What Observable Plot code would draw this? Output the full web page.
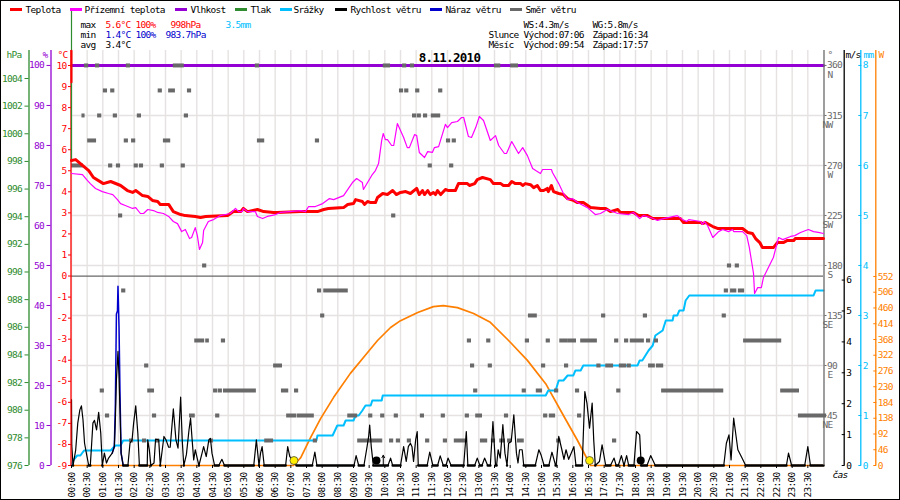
<!DOCTYPE html>
<html>
<head>
<meta charset="utf-8">
<script src="https://cdn.jsdelivr.net/npm/d3@7"></script>
<script src="https://cdn.jsdelivr.net/npm/@observablehq/plot@0.6"></script>
<style>
html,body{margin:0;padding:0;background:#fff}
svg{display:block;outline:1px solid #000;outline-offset:-1px;overflow:visible}
</style>
</head>
<body>
<div id="chart"></div>
<script>
// --- data: [minutes since midnight, value]
const temperature = [[0,5.49],[8,5.53],[33,5.01],[42,4.68],[61,4.39],[75,4.49],[94,4.30],[107,4.06],[117,3.97],[123,4.06],[136,3.82],[146,3.78],[155,3.59],[165,3.54],[170,3.40],[186,3.40],[195,3.06],[209,2.92],[218,2.87],[237,2.83],[247,2.78],[257,2.83],[299,2.87],[310,3.06],[324,3.06],[329,3.21],[337,3.06],[356,3.16],[368,3.06],[387,3.02],[394,3.02],[439,3.06],[471,3.06],[483,3.16],[492,3.21],[521,3.25],[529,3.40],[540,3.44],[544,3.63],[557,3.54],[561,3.40],[567,3.54],[573,3.49],[582,3.49],[586,3.73],[596,3.92],[605,3.87],[615,4.06],[622,3.87],[630,3.97],[640,4.01],[649,3.92],[661,4.16],[666,3.87],[672,4.06],[676,3.87],[682,4.06],[687,3.87],[693,3.97],[697,3.87],[701,4.06],[707,3.87],[716,4.11],[722,4.06],[735,4.06],[741,4.39],[758,4.39],[762,4.30],[772,4.39],[777,4.58],[787,4.68],[802,4.58],[808,4.39],[822,4.39],[827,4.30],[837,4.30],[843,4.49],[850,4.39],[860,4.39],[864,4.30],[869,4.39],[879,4.34],[885,4.20],[892,4.30],[898,4.06],[904,4.06],[911,4.16],[913,4.01],[919,4.30],[923,4.01],[933,3.92],[942,3.87],[950,3.68],[961,3.59],[969,3.49],[980,3.49],[994,3.25],[1013,3.21],[1023,3.21],[1032,3.06],[1046,3.16],[1051,3.02],[1076,3.02],[1086,2.87],[1103,2.87],[1113,2.73],[1166,2.73],[1172,2.54],[1205,2.54],[1208,2.49],[1214,2.54],[1228,2.35],[1237,2.26],[1285,2.26],[1295,2.07],[1304,2.02],[1310,1.78],[1318,1.59],[1323,1.35],[1344,1.35],[1352,1.59],[1363,1.59],[1371,1.69],[1383,1.69],[1386,1.78],[1440,1.78]];
const temperatureStart = [[0,10.7],[0,9.2]];
const apparent = [[0,4.87],[21,4.82],[29,4.58],[36,4.39],[46,4.16],[59,4.01],[71,3.92],[79,3.87],[88,3.63],[94,3.44],[103,3.35],[117,3.21],[123,3.25],[132,2.97],[138,2.97],[146,3.16],[157,3.11],[165,3.02],[176,2.97],[186,2.83],[195,2.59],[203,2.49],[211,2.11],[218,2.21],[226,1.78],[230,1.83],[237,2.30],[241,1.92],[245,1.26],[251,1.59],[253,2.16],[262,2.59],[272,2.68],[285,2.87],[304,2.97],[314,3.21],[320,3.06],[327,3.06],[329,3.21],[337,3.06],[352,3.06],[356,2.83],[366,2.73],[375,2.83],[391,2.92],[400,3.02],[439,3.11],[448,3.06],[454,3.30],[467,3.30],[481,3.44],[494,3.68],[502,3.63],[521,3.82],[538,4.44],[546,4.63],[557,4.44],[559,4.11],[576,4.82],[582,5.01],[588,5.34],[594,6.44],[597,6.77],[601,6.48],[605,6.48],[613,6.20],[617,6.20],[624,7.24],[636,6.58],[643,6.10],[647,6.10],[657,6.72],[661,6.67],[666,5.87],[676,5.63],[682,5.91],[691,5.87],[695,6.10],[703,6.15],[716,7.20],[720,7.05],[728,7.29],[739,7.34],[747,7.53],[751,7.53],[760,6.63],[766,6.58],[774,7.05],[781,7.58],[789,7.39],[802,6.44],[812,6.67],[818,6.20],[829,5.82],[833,5.82],[843,6.39],[856,5.82],[864,6.10],[873,5.72],[883,5.11],[889,5.01],[898,4.87],[902,5.06],[919,5.06],[921,4.92],[933,4.39],[942,3.92],[950,3.63],[959,3.68],[969,3.49],[988,3.25],[1003,2.92],[1013,2.97],[1026,3.16],[1046,2.97],[1067,2.92],[1076,3.02],[1088,2.73],[1095,2.87],[1109,2.78],[1122,2.64],[1134,2.73],[1160,2.87],[1170,2.68],[1178,2.59],[1182,2.68],[1205,2.59],[1208,2.45],[1212,2.59],[1218,2.40],[1228,1.83],[1239,2.11],[1247,2.21],[1258,2.11],[1266,2.21],[1268,2.11],[1285,2.11],[1293,1.92],[1298,1.35],[1306,0.12],[1308,-0.83],[1314,-0.55],[1321,-0.55],[1325,-0.07],[1344,0.88],[1354,1.83],[1362,1.73],[1377,1.88],[1385,1.92],[1396,2.07],[1411,2.21],[1421,2.11],[1430,2.07],[1440,2.02]];
const humidity = [[0,100],[1440,100]];
const pressure = [[0,1008.9],[0,998]];
const windSpeed = [[0,2.13],[0.5,0.65],[3,0],[8,0.5],[12,1.37],[16,1.8],[19,1.93],[22,1.48],[25,0.72],[29,0.35],[33,0],[36,0],[41,1.37],[44,1.46],[48,1.15],[52,1.72],[56,1.05],[59,0],[63,0.4],[67,0.08],[71,0.24],[78,0.4],[82,0.61],[84,1.48],[86,2.77],[89,3.69],[91,2.88],[93,1.69],[95,0.4],[99,0],[108,0],[112,0.72],[116,0.83],[119,1.37],[123,1.93],[127,1.05],[130,0],[145,0],[146,0.83],[149,0.51],[152,0],[158,0.08],[161,0.85],[167,0.83],[170,0],[177,0.94],[181,0.83],[186,0.59],[189,0.59],[195,1.83],[200,0.83],[204,0.56],[209,2.21],[212,0.83],[215,0],[220,0.35],[225,1.15],[228,1.53],[231,0.83],[234,0.18],[237,0.51],[240,0.29],[244,0],[250,0.4],[253,0.61],[258,0.29],[263,0.83],[266,0.88],[269,0.4],[274,0],[282,0],[288,0.2],[293,0],[349,0],[354,0.83],[359,0],[362,0.4],[365,0.61],[369,0],[410,0],[414,0.61],[418,0.29],[426,0.08],[431,0],[461,0],[466,0.43],[470,0],[541,0],[545,0.32],[550,0],[560,0],[566,0.61],[569,0.94],[571,1.31],[574,0.61],[578,0],[606,0],[611,0.24],[615,0],[630,0],[636,0.61],[641,0.13],[645,0.61],[649,0.72],[652,0.61],[655,0.13],[659,0.83],[662,1.1],[664,0],[681,0],[686,0.43],[692,0],[701,0],[706,0.31],[712,0],[717,0],[721,0.24],[727,0],[751,0],[756,1.1],[759,0],[772,0],[777,0.24],[782,0],[786,0],[791,0.24],[797,0],[802,0],[807,1.42],[812,0],[814,0],[817,0.51],[821,0.24],[826,1.32],[830,0.4],[834,0],[837,0.72],[842,0.78],[847,1.64],[852,0.4],[855,0.08],[858,0.51],[863,0.51],[866,0],[888,0],[895,0.51],[899,0.35],[905,0],[914,0],[920,0.43],[927,0],[928,0],[933,0.94],[939,0.51],[943,0.2],[947,0.51],[952,0.2],[962,0.61],[966,0],[978,0],[983,2.39],[987,2.02],[992,1.21],[997,2.02],[1000,0.83],[1003,0],[1011,0.13],[1016,0.67],[1023,0],[1032,0],[1039,0.24],[1043,0],[1047,0],[1053,0.32],[1058,0],[1063,0.32],[1067,0],[1077,0],[1082,1.1],[1088,0.99],[1091,0],[1102,0],[1109,0.32],[1118,0],[1249,0],[1254,0.72],[1259,0.99],[1263,0.18],[1268,1.53],[1271,1.15],[1276,0.51],[1284,0.24],[1291,0],[1369,0],[1373,0.4],[1379,0],[1404,0],[1410,0.61],[1415,0],[1440,0]];
const windGust = [[78,0.4],[82,0.61],[84,2.0],[86,4.9],[88,5.0],[89,5.8],[91,4.5],[93,2.2],[95,0.4],[99,0]];
const rain = [[0,0],[3,0.1],[11,0.2],[17,0.2],[24,0.3],[75,0.3],[84,0.4],[94,0.4],[99,0.5],[469,0.5],[471,0.6],[500,0.6],[509,0.8],[521,0.8],[525,0.9],[540,0.9],[544,1.0],[550,1.0],[557,1.1],[563,1.2],[573,1.2],[576,1.3],[594,1.3],[596,1.4],[908,1.4],[913,1.5],[927,1.5],[933,1.7],[942,1.7],[950,1.8],[961,1.8],[965,1.9],[975,1.9],[980,2.0],[1084,2.0],[1088,2.1],[1093,2.1],[1099,2.2],[1105,2.3],[1113,2.4],[1118,2.6],[1132,2.7],[1138,2.9],[1151,2.9],[1153,3.0],[1160,3.0],[1164,3.1],[1172,3.1],[1176,3.3],[1183,3.4],[1421,3.4],[1425,3.5],[1440,3.5]];
const solar = [[0,0],[425,0],[439,23],[458,82],[477,137],[502,199],[534,269],[567,330],[586,365],[611,403],[630,423],[663,447],[693,464],[712,467],[739,461],[770,444],[802,418],[837,365],[873,307],[908,239],[942,146],[969,73],[994,0],[1440,0]];
// wind direction: degrees -> [from minute, to minute]
const direction360 = [[25,33],[46,54],[105,113],[195,216],[352,360],[597,611],[634,642],[649,657],[810,822],[841,856]];
const direction337 = [[61,69],[75,83],[166,174],[186,199],[222,230],[628,636],[638,646],[659,667],[703,711]];
const direction315 = [[20,26],[50,58],[80,88],[126,134],[216,224],[653,661],[662,670],[674,682],[689,707]];
const direction292 = [[31,48],[101,109],[115,123],[176,190],[356,370],[467,475],[718,726],[729,737]];
const direction270 = [[0,23],[71,79],[86,94],[120,128],[130,138],[170,178],[210,218],[683,691],[724,732]];
const direction225 = [[90,98],[613,621]];
const direction180 = [[251,259],[1256,1264],[1271,1279]];
const direction157 = [[96,104],[471,479],[483,530],[1250,1258],[1262,1274],[1277,1289]];
const direction135 = [[477,485],[875,892],[1015,1023],[1095,1103],[1246,1254]];
const direction112 = [[236,255],[257,264],[287,295],[758,766],[795,803],[869,877],[909,917],[935,950],[950,967],[975,1007],[1040,1048],[1059,1067],[1070,1097],[1101,1109],[1116,1124],[1287,1360]];
const direction90 = [[140,148],[387,404],[764,772],[798,806],[900,908],[944,952],[1006,1014],[1023,1038],[1049,1063],[1064,1072],[1105,1118],[1120,1134]];
const direction67 = [[55,63],[146,159],[272,280],[281,289],[291,354],[402,416],[427,435],[770,778],[863,871],[890,902],[925,933],[965,973],[1044,1052],[1130,1249],[1358,1394]];
const direction45 = [[65,73],[155,163],[226,237],[276,284],[412,431],[432,465],[529,548],[569,577],[592,600],[618,626],[668,676],[708,716],[754,762],[774,787],[829,837],[904,912],[915,927],[969,977],[1392,1446]];
const direction22 = [[111,119],[136,144],[161,169],[264,272],[370,387],[463,471],[548,596],[609,617],[622,630],[643,651],[678,686],[712,720],[733,755],[783,797],[804,812],[820,831],[835,843],[854,867],[929,937],[1036,1044]];
const directionRows = [[360,direction360],[337.5,direction337],[315,direction315],[292.5,direction292],[270,direction270],[225,direction225],[180,direction180],[157.5,direction157],[135,direction135],[112.5,direction112],[90,direction90],[67.5,direction67],[45,direction45],[22.5,direction22]];
const sunEvents = [426,992];
const moonEvents = [584,1090];
const moonriseMark = [597];

// --- axes
const hPaTicks = [976,978,980,982,984,986,988,990,992,994,996,998,1000,1002,1004];
const pctTicks = [0,10,20,30,40,50,60,70,80,90,100];
const tempTicks = d3.range(-9,11);
const degTicks = [45,90,135,180,225,270,315,360];
const compass = ["NE","E","SE","S","SW","W","NW","N"];
const msTicks = [0,1,2,3,4,5,6];
const mmTicks = [0,1,2,3,4,5,6,7,8];
const wTicks = [0,46,92,138,184,230,276,322,368,414,460,506,552];
const halfHours = d3.range(0,1440,30);

// --- legend and header text
const legendLabels = ["Teplota","Přízemní teplota","Vlhkost","Tlak","Srážky","Rychlost větru","Náraz větru","Směr větru"];
const legendColors = ["#ff0000","#ff00ff","#9400d3","#2e8b2e","#00bfff","#000000","#0000cd","#696969"];
const legendSwatch = [10,70,175,235,280,335,430,510];
const legendText = [25,84,190,250,293,350,445,525];
const headerTexts = [
  ["max",80,24,"#000"],["5.6°C",105,24,"#f00"],["100%",135,24,"#f00"],["998hPa",170,24,"#f00"],["3.5mm",225,24,"#00bfff"],
  ["min",80,34,"#000"],["1.4°C",105,34,"#0000cd"],["100%",135,34,"#0000cd"],["983.7hPa",165,34,"#0000cd"],
  ["avg",80,44,"#000"],["3.4°C",105,44,"#000"],
  ["WS:4.3m/s",523,24,"#000"],["WG:5.8m/s",592,24,"#000"],
  ["Slunce",488,34,"#000"],["Východ:07:06",523,34,"#000"],["Západ:16:34",592,34,"#000"],
  ["Měsíc",488,44,"#000"],["Východ:09:54",523,44,"#000"],["Západ:17:57",592,44,"#000"]
];
const unitLabels = [["hPa",6,"#2e8b2e"],["%",42,"#9400d3"],["°C",57,"#f00"],["°",827,"#696969"],["m/s",845,"#000"],["mm",863,"#00bfff"],["W",878,"#ff7f00"]];

// --- every series is placed through the one y scale, whose unit is °C
const ML = 71, MT = 65;
const PX_PER_C = 21.05;
const fromHPa = h => -9 + (h-976)*13.82/PX_PER_C;
const fromPct = p => -9 + p*4/PX_PER_C;
const fromDeg = d => -9 + d*(400/360)/PX_PER_C;
const fromMs  = m => -9 + m*30.9/PX_PER_C;
const fromMm  = m => -9 + m*50/PX_PER_C;
const fromW   = w => -9 + w*0.3424/PX_PER_C;
const pxToMin = px => (px-ML)*1440/752;
const pyToC   = py => 10 - (py-MT)/PX_PER_C;

const font = "DejaVu Sans Mono";
const fs = 9.5;
const TOPY = pyToC(50);

function yAxis(ticks, conv, anchor, color, dx, tickSize, tickPadding){
  const labels = new Map(ticks.map(t => [conv(t), String(t)]));
  return Plot.axisY(ticks.map(conv), {anchor, color, dx, tickSize, tickPadding, label:null,
    tickFormat: v => labels.get(v), fontFamily:font, fontSize:fs});
}
const axisLine = (side,dx,stroke,y2=TOPY) => Plot.ruleX([side],{dx,stroke,strokeWidth:1.3,y1:-9,y2});
const header = (text,px,py,fill,extra={}) => Plot.text([text],{frameAnchor:"top-left",dx:px-ML,dy:py-MT,fill,textAnchor:"start",lineAnchor:"middle",fontFamily:font,fontSize:fs,...extra});

const marks = [
  // grid
  Plot.ruleX(halfHours,{stroke:"#e6e2e2",strokeWidth:1.4,y1:-9,y2:TOPY}),
  Plot.ruleY(degTicks.filter(d=>d<360).map(fromDeg),{stroke:"#e6e2e2",strokeWidth:1.4}),
  Plot.ruleY([0],{stroke:"#696969",strokeWidth:1.2}),
  // series
  Plot.line(solar,{x:d=>d[0],y:d=>fromW(d[1]),stroke:"#ff7f00",strokeWidth:1.7}),
  Plot.line(humidity,{x:d=>d[0],y:d=>fromPct(d[1]),stroke:"#9400d3",strokeWidth:3}),
  Plot.line(rain,{x:d=>d[0],y:d=>fromMm(d[1]),stroke:"#00bfff",strokeWidth:2}),
  ...directionRows.map(([deg,spans]) => Plot.ruleY(spans,{x1:d=>d[0],x2:d=>d[1],y:()=>fromDeg(deg),stroke:"#696969",strokeWidth:4})),
  Plot.line(windGust,{x:d=>d[0],y:d=>fromMs(d[1]),stroke:"#0000cd",strokeWidth:1.5}),
  Plot.line(windSpeed,{x:d=>d[0],y:d=>fromMs(d[1]),stroke:"#000",strokeWidth:1.2}),
  Plot.line(windSpeed,{x:d=>d[0],y:d=>d[1]===0?fromMs(0):NaN,stroke:"#000",strokeWidth:2.5}),
  // axes
  axisLine(0,-42.5,"#2e8b2e"),
  axisLine(0,-20.5,"#9400d3"),
  axisLine(0,-0.5,"#ff0000"),
  axisLine(1440,0.5,"#696969"),
  axisLine(1440,20.7,"#000000"),
  axisLine(1440,37.3,"#00bfff"),
  axisLine(1440,52.3,"#ff7f00"),
  yAxis(hPaTicks,fromHPa,"left","#2e8b2e",-42.5,4,3),
  yAxis(pctTicks,fromPct,"left","#9400d3",-20.5,4,3),
  yAxis(tempTicks,v=>v,"left","#ff0000",0,3,2),
  yAxis(degTicks,fromDeg,"right","#696969",0.5,2,1),
  Plot.text(compass,{frameAnchor:"right",y:(d,i)=>fromDeg(degTicks[i]),dx:9,dy:9.5,fill:"#696969",fontFamily:font,fontSize:fs}),
  yAxis(msTicks,fromMs,"right","#000000",17.7,3,2),
  yAxis(mmTicks,fromMm,"right","#00bfff",34.3,3,2),
  yAxis(wTicks,fromW,"right","#ff7f00",49.3,3,2),
  Plot.axisX(halfHours,{anchor:"bottom",tickRotate:-90,tickSize:3,tickPadding:4,label:null,
    tickFormat:m=>d3.format("02")(Math.floor(m/60))+":"+d3.format("02")(m%60),fontFamily:font,fontSize:fs}),
  // pressure and first temperature sample sit on the left edge
  Plot.line(pressure,{x:d=>d[0],y:d=>fromHPa(d[1]),stroke:"#2e8b2e",strokeWidth:1.2}),
  Plot.line(temperatureStart,{x:d=>d[0],y:d=>d[1],stroke:"#ff0000",strokeWidth:2}),
  Plot.line(temperature,{x:d=>d[0],y:d=>d[1],stroke:"#ff0000",strokeWidth:3}),
  Plot.line(apparent,{x:d=>d[0],y:d=>d[1],stroke:"#ff00ff",strokeWidth:1.2}),
  // sun and moon events
  Plot.dot(sunEvents,{x:d=>d,y:()=>-9,dy:-5,r:4,fill:"#ffee00",stroke:"#333",strokeWidth:0.7}),
  Plot.dot(moonEvents,{x:d=>d,y:()=>-9,dy:-5,r:4,fill:"#000"}),
  Plot.arrow(moonriseMark,{x:d=>d,y1:()=>-9,y2:()=>fromMs(0.33),stroke:"#000",strokeWidth:1,headLength:4,bend:0}),
  // legend
  ...legendLabels.flatMap((label,i) => [
    Plot.ruleY([pyToC(9)],{x1:pxToMin(legendSwatch[i]),x2:pxToMin(legendSwatch[i]+12),stroke:legendColors[i],strokeWidth:3}),
    header(label,legendText[i],9,"#000")
  ]),
  ...headerTexts.map(([t,x,y,c]) => header(t,x,y,c)),
  ...unitLabels.map(([t,x,c]) => header(t,x,54,c)),
  header("čas",832,474,"#000",{fontStyle:"italic"}),
  header("8.11.2010",449,57,"#000",{textAnchor:"middle",fontWeight:"bold",fontSize:12.5})
];

const chart = Plot.plot({
  width:900, height:500,
  marginTop:MT, marginBottom:35, marginLeft:ML, marginRight:77,
  style:{background:"#fff",fontFamily:font,letterSpacing:"-0.7px",overflow:"visible"},
  x:{type:"linear",domain:[0,1440],axis:null},
  y:{type:"linear",domain:[-9,10],axis:null},
  marks
});
document.getElementById("chart").append(chart);
</script>
</body>
</html>
